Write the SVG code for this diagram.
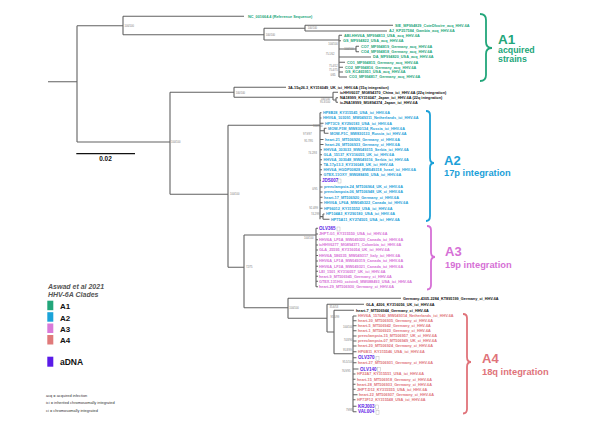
<svg xmlns="http://www.w3.org/2000/svg" width="590" height="424" viewBox="0 0 590 424">
<style>
.br{stroke:#626262;stroke-width:1.1;fill:none}
.nl{font-family:"Liberation Sans",Arial,sans-serif;font-size:2.6px;fill:#777}
.t{font-family:"Liberation Sans",Arial,sans-serif;font-size:3.8px;font-weight:bold}
.g{fill:#22a67a}.b{fill:#1ba0d8}.m{fill:#d670d6}.r{fill:#e0737a}
.k{fill:#111}
.p{fill:#5b21e6;font-size:4.5px}
.ic{fill:#fff;stroke:#aaa;stroke-width:0.4}
.big{font-family:"Liberation Sans",Arial,sans-serif;font-weight:bold}
.lg{font-family:"Liberation Sans",Arial,sans-serif}
</style>
<rect width="590" height="424" fill="#fff"/>
<g id="connectors">
<path class="br" d="M48,81.7H77M77,25.7V142M77,25.7H123M123,16.3V34.7M123,16.3H244M123,34.7H264"/>
<path class="br" d="M264,28.3V40M264,28.3H305M305,25.3V31M305,25.3H393M305,31H387M264,40H339M339,35.3V77"/>
<path class="br" d="M339,35.3H342M339,40.7H341M339,49H356M356,46.3V51.7M356,46.3H359M356,51.7H359M339,57H371M339,62.3H345M339,67.3H343M339,72H343M339,77H347"/>
<path class="br" d="M77,142H170M170,92.3V194.3M170,92.3H234M234,87.3V97.3M234,87.3H286M234,97.3H333M333,92.3V100M333,92.3H338M333,100H336M336,97.7V102.3M336,97.7H338M336,102.3H338"/>
<path class="br" d="M170,194.3H228M228,125.3V267.3M228,125.3H320M320,112.7V219.3"/>
<path class="br" d="M320,112.7H321.5M320,118H321.5M320,123.3H323.5M320,130.8H324.3M324.3,128.3V133.3M324.3,128.3H326.5M324.3,133.3H328.5M320,139.5H323.5M320,144.5H323.5M320,149.7H322M320,154.7H322M320,159.7H322M320,164.7H322M320,169.7H322M320,174.7H322M320,180.3H321M320,187H322.5M320,192H322.5M320,197.3H322.5M320,202.7H322.5M320,208.3H322.5M320,216.6H323M323,214V219.3M323,214H324.5M323,219.3H329.5"/>
<path class="br" d="M228,267.3H244M244,235V307.7M244,235H316M316,228.3V286.7"/>
<path class="br" d="M316,228.3H318M316,234H318M316,239.7H318M316,245H318M316,250H318M316,255.5H318M316,261H318M316,266.3H318M316,271.3H318M316,276.3H318M316,281.3H318M316,286.7H318"/>
<path class="br" d="M244,307.7H288M288,298.3V318.3M288,298.3H401M288,318.3H327M327,304.3V332M327,304.3H364M327,332H334M334,310.3V353.7M334,310.3H354M334,353.7H353M353,316V411.7"/>
<path class="br" d="M353,316H356.5M353,320.7H356.5M353,325.7H356.5M353,330.7H356.5M353,336H356.5M353,341H356.5M353,346H356.5M353,351.7H356.5M353,357.7H356.5M353,362.7H356.5M353,369H358.5M353,374H355.5M353,379.3H355.5M353,384.3H355.5M353,389.3H355.5M353,394.7H357.5M353,399.7H355.5M353,406.3H356.5M353,411.7H356.5"/>
</g>
<g id="node-labels">
<text class="nl" x="124.5" y="26.8">100/100</text>
<text class="nl" x="171" y="143">100/100</text>
<text class="nl" x="235.7" y="93.5">100/100</text>
<text class="nl" x="230" y="195.3">100/100</text>
<text class="nl" x="265.7" y="36">100/100</text>
<text class="nl" x="307.7" y="28.7">100/100</text>
<text class="nl" x="328.3" y="45.2">100/100</text>
<text class="nl" x="344.3" y="50.2">100/100</text>
<text class="nl" x="325.7" y="54.6">75.1/62</text>
<text class="nl" x="329" y="66.6">75.4/52</text>
<text class="nl" x="329" y="71.2">75.4/75</text>
<text class="nl" x="330.5" y="76.2">0/65</text>
<text class="nl" x="320.7" y="100.2">100/100</text>
<text class="nl" x="320" y="103.2">95.3/100</text>
<text class="nl" x="313" y="127">100/100</text>
<text class="nl" x="303" y="135">97.9/97</text>
<text class="nl" x="304.3" y="141.6">95.7/95</text>
<text class="nl" x="308.3" y="153.9">74.2/93</text>
<text class="nl" x="312.3" y="190.2">0/95</text>
<text class="nl" x="309.3" y="208.9">92.4/99</text>
<text class="nl" x="311" y="214.9">74.2/99</text>
<text class="nl" x="304" y="238.6">100/100</text>
<text class="nl" x="246" y="268.2">72/75</text>
<text class="nl" x="289.3" y="309.2">100/100</text>
<text class="nl" x="329.5" y="308.2">35.6/53</text>
<text class="nl" x="330.5" y="317.6">95.5/99</text>
<text class="nl" x="343" y="327.9">100/100</text>
<text class="nl" x="343.7" y="340.6">74.8/90</text>
<text class="nl" x="343" y="350.9">95.8/99</text>
<text class="nl" x="342.5" y="362.6">95.5/100</text>
<text class="nl" x="341.7" y="371.9">76.9/95</text>
<text class="nl" x="346" y="410.9">79/98</text>
</g>
<g id="ref"><text class="t g" x="248" y="17.7">NC_001664.4 (Reference Sequence)</text></g>
<g id="A1-tips" class="t g">
<text x="395" y="26.7">SIE_MF994829_CoteDIvoire_acq_HHV-6A</text>
<text x="389" y="32.4">AJ_KP257584_Gambia_acq_HHV-6A</text>
<text x="344" y="36.7">ABI-HHV6A_MF994813_USA_acq_HHV-6A</text>
<text x="343" y="42.1">GS_MF994822_USA_acq_HHV-6A</text>
<text x="361" y="47.7">CO7_MF994819_Germany_acq_HHV-6A</text>
<text x="361" y="53.1">CO4_MF994818_Germany_acq_HHV-6A</text>
<text x="373" y="58.4">DA_MF994820_USA_acq_HHV-6A</text>
<text x="347" y="63.7">CO1_MF994815_Germany_acq_HHV-6A</text>
<text x="345" y="68.7">CO2_MF994816_Germany_acq_HHV-6A</text>
<text x="345" y="73.4">GS_KC465951_USA_acq_HHV-6A</text>
<text x="349" y="78.4">CO3_MF994817_Germany_acq_HHV-6A</text>
</g>
<g id="integration-tips" class="t k">
<text x="288" y="88.7">3A-15q26.3_KY316049_UK_ici_HHV-6A (15q integration)</text>
<text x="340" y="93.7">icHHV6037_MG894370_China_ici_HHV-6A (22q integration)</text>
<text x="340" y="99.1">NA18999_KY316047_Japan_ici_HHV-6A (22q integration)</text>
<text x="340" y="103.7">icJNA18999_MG894374_Japan_ici_HHV-6A</text>
</g>
<g id="A2-tips" class="t b">
<text x="323" y="114.1">HP8B28_KY315545_USA_ici_HHV-6A</text>
<text x="323" y="119.4">HHV6A_103091_MW049311_Netherlands_ici_HHV-6A</text>
<text x="325" y="124.7">HP73C9_KY290183_USA_ici_HHV-6A</text>
<text x="328" y="129.7">MOW-F1M_MW830134_Russia_ici_HHV-6A</text>
<text x="330" y="134.7">MOW-F1C_MW830133_Russia_ici_HHV-6A</text>
<text x="325" y="140.9">heart-21_MT506926_Germany_ci_HHV-6A</text>
<text x="325" y="145.9">heart-26_MT506933_Germany_ci_HHV-6A</text>
<text x="323.5" y="151.1">HHV6A_303033_MW049315_Serbia_ici_HHV-6A</text>
<text x="323.5" y="156.1">GLA_15137_KY316055_UK_ici_HHV-6A</text>
<text x="323.5" y="161.1">HHV6A_303048_MW049316_Serbia_ici_HHV-6A</text>
<text x="323.5" y="166.1">TA-17p13.3_KY316048_UK_ici_HHV-6A</text>
<text x="323.5" y="171.1">HHV6A_HGDP00828_MW049318_Israel_ici_HHV-6A</text>
<text x="323.5" y="176.1">GTEX-11OXY_MW088495_USA_ici_HHV-6A</text>
<text x="324" y="188.4">preeclampsia-24_MT506964_UK_ci_HHV-6A</text>
<text x="324" y="193.4">preeclampsia-06_MT506948_UK_ci_HHV-6A</text>
<text x="324" y="198.7">heart-17_MT506920_Germany_ci_HHV-6A</text>
<text x="324" y="204.1">HHV6A_LF6A_MW049322_Canada_ici_HHV-6A</text>
<text x="324" y="209.7">HP96012_KY315552_USA_ici_HHV-6A</text>
<text x="326" y="215.4">HP104A3_KY290180_USA_ici_HHV-6A</text>
<text x="331" y="220.7">HP75A11_KY274505_USA_ici_HHV-6A</text>
</g>
<g id="A3-tips" class="t m">
<text x="319" y="235.4">JHPT-G1_KY315550_USA_ici_HHV-6A</text>
<text x="319" y="241.1">HHV6A_LF5A_MW049320_Canada_ici_HHV-6A</text>
<text x="319" y="246.4">icHHV6277_MG894371_Colombia_ici_HHV-6A</text>
<text x="319" y="251.4">GLA_25595_KY316054_UK_ici_HHV-6A</text>
<text x="319" y="256.9">HHV6A_586535_MW049317_Italy_ici_HHV-6A</text>
<text x="319" y="262.4">HHV6A_LF1A_MW049319_Canada_ici_HHV-6A</text>
<text x="319" y="267.7">HHV6A_LF3A_MW049321_Canada_ici_HHV-6A</text>
<text x="319" y="272.7">LEI_1501_KY316057_UK_ici_HHV-6A</text>
<text x="319" y="277.7">heart-9_MT506945_Germany_ci_HHV-6A</text>
<text x="319" y="282.7">GTEX-131HG_cctstn6_MW088493_USA_ici_HHV-6A</text>
<text x="319" y="288.1">heart-29_MT506930_Germany_ci_HHV-6A</text>
</g>
<g id="A4-outgroup" class="t k">
<text x="403" y="299.7">Germany-4305-2284_KT895199_Germany_ci_HHV-6A</text>
<text x="366" y="305.7">GLA_4206_KY316056_UK_ici_HHV-6A</text>
<text x="356" y="311.7">heart-7_MT506944_Germany_ci_HHV-6A</text>
</g>
<g id="A4-tips" class="t r">
<text x="358" y="317.4">HHV6A_157040_MW049314_Netherlands_ici_HHV-6A</text>
<text x="358" y="322.1">heart-30_MT506935_Germany_ci_HHV-6A</text>
<text x="358" y="327.1">heart-5_MT506942_Germany_ci_HHV-6A</text>
<text x="358" y="332.1">heart-1_MT506923_Germany_ci_HHV-6A</text>
<text x="358" y="337.4">preeclampsia-15_MT506957_UK_ci_HHV-6A</text>
<text x="358" y="342.4">preeclampsia-07_MT506949_UK_ci_HHV-6A</text>
<text x="358" y="347.4">heart-20_MT506924_Germany_ci_HHV-6A</text>
<text x="358" y="353.1">HP6B11_KY315546_USA_ici_HHV-6A</text>
<text x="358" y="364.1">heart-27_MT506931_Germany_ci_HHV-6A</text>
<text x="357" y="375.4">HP22A7_KY315551_USA_ici_HHV-6A</text>
<text x="357" y="380.7">heart-15_MT506918_Germany_ci_HHV-6A</text>
<text x="357" y="385.7">heart-28_MT506933_Germany_ci_HHV-6A</text>
<text x="357" y="390.7">JHPT-D12_KY315555_USA_ici_HHV-6A</text>
<text x="359" y="396.1">heart-22_MT506937_Germany_ci_HHV-6A</text>
<text x="357" y="401.1">HP73F12_KY315548_USA_ici_HHV-6A</text>
</g>
<g id="aDNA-tips">
<text class="t p" x="322" y="181.9">JDS007</text><rect class="ic" x="338" y="179" width="3" height="4"/>
<text class="t p" x="319" y="229.9">OLV365</text><rect class="ic" x="337" y="227" width="3" height="4"/>
<text class="t p" x="358" y="359.3">OLV370</text><rect class="ic" x="376" y="356.4" width="3" height="4"/>
<text class="t p" x="360" y="370.6">OLV140</text><rect class="ic" x="377.5" y="367.7" width="3" height="4"/>
<text class="t p" x="358" y="407.9">KRJ003</text><rect class="ic" x="375.5" y="405" width="3" height="4"/>
<text class="t p" x="358" y="413.3">VAL004</text><rect class="ic" x="376" y="410.4" width="3" height="4"/>
</g>
<g id="clade-A1">
<path d="M480,14Q486,14 486,20V42Q486,48 492,48Q486,48 486,54V75Q486,81 480,81" fill="none" stroke="#22a67a" stroke-width="1.8"/>
<text class="big" x="498" y="43.5" font-size="13.5" fill="#22a67a">A1</text>
<text class="big" x="498" y="53" font-size="8.8" fill="#22a67a">acquired</text>
<text class="big" x="498" y="61.5" font-size="8.8" fill="#22a67a">strains</text>
</g>
<g id="clade-A2">
<path d="M426,111Q430,111 430,115V158Q430,163 434,163Q430,163 430,168V216Q430,221 426,221" fill="none" stroke="#1ba0d8" stroke-width="1.8"/>
<text class="big" x="444" y="164.5" font-size="13" fill="#1ba0d8">A2</text>
<text class="big" x="444" y="176.2" font-size="9.3" fill="#1ba0d8">17p integration</text>
</g>
<g id="clade-A3">
<path d="M427,226Q431,226 431,230V252Q431,257 435,257Q431,257 431,262V285Q431,289.5 427,289.5" fill="none" stroke="#d670d6" stroke-width="1.8"/>
<text class="big" x="445" y="256.3" font-size="13" fill="#d670d6">A3</text>
<text class="big" x="445" y="268" font-size="9.3" fill="#d670d6">19p integration</text>
</g>
<g id="clade-A4">
<path d="M463,314Q467,314 467,318V357Q467,362 471,362Q467,362 467,367V409Q467,413.5 463,413.5" fill="none" stroke="#e0737a" stroke-width="1.8"/>
<text class="big" x="482" y="362.8" font-size="13" fill="#e0737a">A4</text>
<text class="big" x="482" y="374.5" font-size="9.3" fill="#e0737a">18q integration</text>
</g>
<g id="scale">
<line x1="76.3" y1="153.7" x2="135" y2="153.7" stroke="#111" stroke-width="1.2"/>
<text class="big" x="105.5" y="161" font-size="6.5" text-anchor="middle" fill="#111">0.02</text>
</g>
<g id="legend" class="lg">
<text x="48" y="289.3" font-size="7" font-weight="bold" font-style="italic" fill="#555">Aswad et al 2021</text>
<text x="48" y="296.9" font-size="7" font-weight="bold" font-style="italic" fill="#555">HHV-6A Clades</text>
<rect x="47.3" y="300.7" width="6" height="9.5" fill="#22a67a"/>
<rect x="47.3" y="312.2" width="6" height="9.5" fill="#1ba3d9"/>
<rect x="47.3" y="323.5" width="6" height="9.5" fill="#d97ad9"/>
<rect x="47.3" y="335" width="6" height="9.5" fill="#e07a7a"/>
<rect x="47.3" y="356.7" width="6" height="10" fill="#5a1be8"/>
<text x="60" y="309" font-size="8" font-weight="bold" fill="#111">A1</text>
<text x="60" y="320.5" font-size="8" font-weight="bold" fill="#111">A2</text>
<text x="60" y="331.8" font-size="8" font-weight="bold" fill="#111">A3</text>
<text x="60" y="343.3" font-size="8" font-weight="bold" fill="#111">A4</text>
<text x="60" y="365.2" font-size="8.5" font-weight="bold" fill="#111">aDNA</text>
<text x="46" y="396.7" font-size="3.9" fill="#333">acq = acquired infection</text>
<text x="46" y="404.3" font-size="3.9" fill="#333">ici = inherited chromosomally integrated</text>
<text x="46" y="412" font-size="3.9" fill="#333">ci = chromosomally integrated</text>
</g>
</svg>
